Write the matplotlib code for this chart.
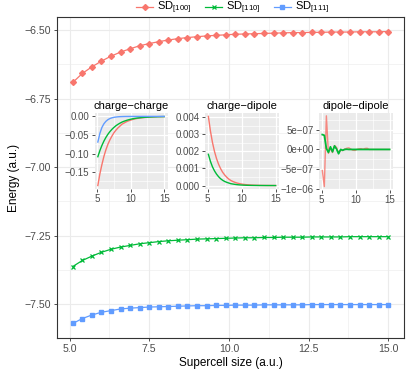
import numpy as np
import matplotlib
matplotlib.use("Agg")
import matplotlib.pyplot as plt
from matplotlib.lines import Line2D

plt.rcParams["font.family"] = ["Liberation Sans", "DejaVu Sans"]
plt.rcParams["mathtext.fontset"] = "custom"
plt.rcParams["mathtext.rm"] = "Liberation Sans"

# supercell sizes (a.u.)
size = [5.1, 5.4, 5.7, 6.0, 6.3, 6.6, 6.9, 7.2, 7.5, 7.8, 8.1, 8.4, 8.7, 9.0,
        9.3, 9.6, 9.9, 10.2, 10.5, 10.8, 11.1, 11.4, 11.7, 12.0, 12.3, 12.6,
        12.9, 13.2, 13.5, 13.8, 14.1, 14.4, 14.7, 15.0]

# total energies
e_100 = [-6.691, -6.658, -6.634, -6.613, -6.595, -6.580, -6.568, -6.557, -6.549,
         -6.542, -6.536, -6.531, -6.527, -6.524, -6.521, -6.519, -6.517, -6.515,
         -6.514, -6.513, -6.512, -6.511, -6.510, -6.509, -6.509, -6.508, -6.508,
         -6.507, -6.507, -6.507, -6.506, -6.506, -6.506, -6.505]
e_110 = [-7.363, -7.341, -7.325, -7.311, -7.300, -7.292, -7.286, -7.280, -7.276,
         -7.272, -7.269, -7.267, -7.265, -7.263, -7.262, -7.261, -7.260, -7.259,
         -7.258, -7.258, -7.257, -7.257, -7.256, -7.256, -7.256, -7.255, -7.255,
         -7.255, -7.255, -7.254, -7.254, -7.254, -7.254, -7.254]
e_111 = [-7.571, -7.553, -7.540, -7.530, -7.524, -7.518, -7.515, -7.513, -7.511,
         -7.510, -7.509, -7.508, -7.507, -7.506, -7.506, -7.505, -7.505, -7.504,
         -7.504, -7.504, -7.503, -7.503, -7.503, -7.503, -7.503, -7.502, -7.502,
         -7.502, -7.502, -7.502, -7.502, -7.502, -7.502, -7.502]

# charge-charge term
cc_100 = [-0.186, -0.155, -0.130, -0.108, -0.090, -0.075, -0.063, -0.053, -0.044,
          -0.037, -0.031, -0.026, -0.021, -0.018, -0.015, -0.0125, -0.0105, -0.0088,
          -0.0073, -0.0061, -0.0051, -0.0043, -0.0036, -0.0030, -0.0025, -0.0021,
          -0.0017, -0.0014, -0.0012, -0.0010, -0.0008, -0.0007, -0.0006, -0.0005]
cc_110 = [-0.1085, -0.0922, -0.0784, -0.0666, -0.0566, -0.0481, -0.0409, -0.0348,
          -0.0296, -0.0251, -0.0214, -0.0182, -0.0154, -0.0131, -0.0112, -0.0095,
          -0.0081, -0.0068, -0.0058, -0.0049, -0.0042, -0.0036, -0.0030, -0.0026,
          -0.0022, -0.0019, -0.0016, -0.0014, -0.0011, -0.0010, -0.0008, -0.0007,
          -0.0006, -0.0005]
cc_111 = [-0.069, -0.046, -0.030, -0.020, -0.0133, -0.0088, -0.0058, -0.0038, -0.0025,
          -0.0017, -0.0011, -0.0007, -0.0005, -0.0003, -0.0002, -0.00015, -0.0001,
          -0.0001, -0.0001, -0.00005, -0.00005, -0.00005, 0.0, 0.0, 0.0, 0.0, 0.0,
          0.0, 0.0, 0.0, 0.0, 0.0, 0.0, 0.0]

# charge-dipole term
cd_100 = [0.00405, 0.0032, 0.00253, 0.0020, 0.00158, 0.00125, 0.00099, 0.00078,
          0.00062, 0.00049, 0.00038, 0.0003, 0.00024, 0.00019, 0.00015, 0.00012,
          0.000094, 0.000074, 0.000059, 0.000046, 0.000037, 0.000029, 0.000023,
          0.000018, 0.000014, 0.000011, 0.000009, 0.000007, 0.0000055, 0.0000043,
          0.0000034, 0.0000027, 0.0000021, 0.0000017]
cd_110 = [0.00183, 0.00142, 0.0011, 0.00086, 0.00067, 0.00052, 0.0004, 0.00031,
          0.00024, 0.00019, 0.00015, 0.00011, 0.00009, 0.00007, 0.000054, 0.000042,
          0.000033, 0.000025, 0.00002, 0.000015, 0.000012, 0.0000093, 0.0000072,
          0.0000056, 0.0000044, 0.0000034, 0.0000026, 0.000002, 0.0000016,
          0.0000012, 0.000001, 0.0000008, 0.0000006, 0.0000005]

# dipole-dipole term
dd_100 = [-5.4e-7, -9.5e-7, 8.6e-7, -1.0e-7, 0.3e-7, -0.8e-7, 1.0e-7, 0.5e-7,
          -0.9e-7, -0.2e-7, -0.3e-7, 0.1e-7, 0.3e-7, 0.4e-7, 0.1e-7, -0.2e-7,
          -0.25e-7, 0.0, 0.15e-7, 0.2e-7, 0.05e-7, 0.25e-7, 0.3e-7, 0.0,
          0.0, 0.0, 0.0, 0.0, 0.0, 0.0, 0.0, 0.0, 0.0, 0.0]
dd_110 = [3.8e-7, 3.6e-7, 0.25e-7, -0.75e-7, 0.67e-7, -0.6e-7, 0.9e-7, 0.1e-7,
          -1.1e-7, 0.0, -0.2e-7, 0.0, 0.05e-7, 0.0, 0.0, 0.0, 0.0, 0.0, 0.0, 0.0,
          0.0, 0.0, 0.0, 0.0, 0.0, 0.0, 0.0, 0.0, 0.0, 0.0, 0.0, 0.0, 0.0, 0.0]

RED, GREEN, BLUE = "#F8766D", "#00BA38", "#619CFF"
GRID = "#EBEBEB"
TXT = "#4D4D4D"
XLIM = (4.605, 15.495)

MK_100 = dict(marker="D", ms=3.0)
MK_110 = dict(marker="x", ms=3.5, mew=0.9)
MK_111 = dict(marker="s", ms=3.4)


def style_inset(ax, yticks, ylabels, yminor, ylim, title):
    ax.set_facecolor(GRID)
    for s in ax.spines.values():
        s.set_visible(False)
    ax.set_xlim(*XLIM)
    ax.set_ylim(*ylim)
    ax.set_xticks([5, 10, 15])
    ax.set_xticklabels(["5", "10", "15"])
    ax.set_xticks([7.5, 12.5], minor=True)
    ax.set_yticks(yticks)
    ax.set_yticklabels(ylabels)
    ax.set_yticks(yminor, minor=True)
    ax.grid(True, which="major", color="white", lw=0.9)
    ax.grid(True, which="minor", color="white", lw=0.45)
    ax.set_axisbelow(True)
    ax.tick_params(which="major", length=2.2, width=0.6, color="#333333",
                   labelsize=7, labelcolor=TXT, pad=1.5)
    ax.tick_params(which="minor", length=0)
    ax.set_title(title, fontsize=8, pad=3)


fig = plt.figure(figsize=(4.11, 3.72), dpi=100)
ax = fig.add_axes([0.1387, 0.0914, 0.8443, 0.8629])

ax.plot(size, e_100, color=RED, lw=0.9, **MK_100)
ax.plot(size, e_110, color=GREEN, lw=0.9, **MK_110)
ax.plot(size, e_111, color=BLUE, lw=0.9, **MK_111)

ax.set_xlim(*XLIM)
ax.set_ylim(-7.624, -6.452)
ax.set_xticks([5, 7.5, 10, 12.5, 15])
ax.set_xticklabels(["5.0", "7.5", "10.0", "12.5", "15.0"])
ax.set_xticks([6.25, 8.75, 11.25, 13.75], minor=True)
ax.set_yticks([-7.5, -7.25, -7.0, -6.75, -6.5])
ax.set_yticklabels(["\u22127.50", "\u22127.25", "\u22127.00", "\u22126.75", "\u22126.50"])
ax.set_yticks([-7.375, -7.125, -6.875, -6.625], minor=True)
ax.grid(True, which="major", color=GRID, lw=0.8)
ax.grid(True, which="minor", color=GRID, lw=0.4)
ax.set_axisbelow(True)
for s in ax.spines.values():
    s.set_color("#333333")
    s.set_linewidth(0.8)
ax.tick_params(which="major", length=2.5, width=0.6, color="#333333",
               labelsize=7.6, labelcolor=TXT, pad=2)
ax.tick_params(which="minor", length=0)
ax.set_xlabel("Supercell size (a.u.)", fontsize=8.5, labelpad=2)
ax.set_ylabel("Energy (a.u.)", fontsize=8.5, labelpad=3)

# insets
ins1 = fig.add_axes([0.230, 0.492, 0.1776, 0.2043])
ins1.plot(size, cc_100, color=RED, lw=1.0)
ins1.plot(size, cc_110, color=GREEN, lw=1.0)
ins1.plot(size, cc_111, color=BLUE, lw=1.0)
style_inset(ins1, [-0.15, -0.10, -0.05, 0.0],
            ["\u22120.15", "\u22120.10", "\u22120.05", "0.00"],
            [-0.175, -0.125, -0.075, -0.025], (-0.1953, 0.0092),
            "charge\u2212charge")

ins2 = fig.add_axes([0.4988, 0.492, 0.1800, 0.2043])
ins2.plot(size, cd_100, color=RED, lw=1.0)
ins2.plot(size, cd_110, color=GREEN, lw=1.0)
style_inset(ins2, [0.0, 0.001, 0.002, 0.003, 0.004],
            ["0.000", "0.001", "0.002", "0.003", "0.004"],
            [0.0005, 0.0015, 0.0025, 0.0035], (-0.0002, 0.00425),
            "charge\u2212dipole")

ins3 = fig.add_axes([0.776, 0.489, 0.1800, 0.2070])
ins3.plot(size, dd_100, color=RED, lw=1.0, alpha=0.85)
ins3.plot(size, dd_110, color=GREEN, lw=1.3)
style_inset(ins3, [-1e-6, -5e-7, 0.0, 5e-7],
            ["\u22121e\u221206", "\u22125e\u221207", "0e+00", "5e\u221207"],
            [-7.5e-7, -2.5e-7, 2.5e-7, 7.5e-7], (-1.04e-6, 9.3e-7),
            "dipole\u2212dipole")

handles = [
    Line2D([], [], color=RED, lw=0.9, **MK_100),
    Line2D([], [], color=GREEN, lw=0.9, **MK_110),
    Line2D([], [], color=BLUE, lw=0.9, **MK_111),
]
labels = [r"SD$_\mathrm{[100]}$", r"SD$_\mathrm{[110]}$", r"SD$_\mathrm{[111]}$"]
fig.legend(handles, labels, loc="center", bbox_to_anchor=(0.567, 0.978), ncol=3,
           frameon=False, fontsize=8, handlelength=1.5, handletextpad=0.4,
           columnspacing=1.2, borderaxespad=0)

fig.savefig("out.png", dpi=100, facecolor="white")
